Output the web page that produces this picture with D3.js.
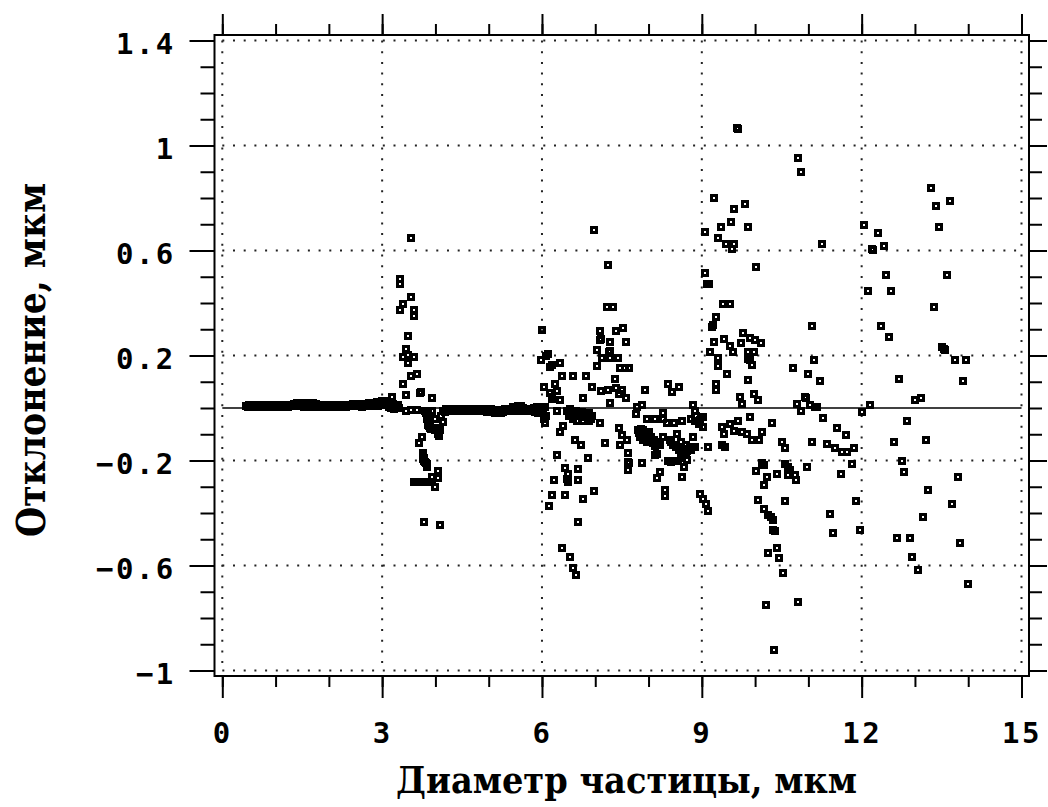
<!DOCTYPE html>
<html><head><meta charset="utf-8">
<script src="https://cdn.jsdelivr.net/npm/d3@7"></script>
<style>body{margin:0;background:#fff}</style>
</head><body>
<svg id="c" width="1048" height="807"></svg>
<script>
// ---------- tick labels / titles ----------
const xTicksMajor = [0, 3, 6, 9, 12, 15];
const xTickLabels = ["0", "3", "6", "9", "12", "15"];
const yTicksMajor = [-1, -0.6, -0.2, 0.2, 0.6, 1, 1.4];
const yTickLabels = ["−1", "−0.6", "−0.2", "0.2", "0.6", "1", "1.4"];
const xTitle = "Диаметр частицы, мкм";
const yTitle = "Отклонение, мкм";
const zeroLine = [[0, 0], [15, 0]];

// ---------- data: [diameter, deviation] ----------
// dense band of small particles (0.45 – 3.3 µm)
const band1 = [
 [0.45,0.008],[0.50,0.012],[0.55,0.012],[0.60,0.012],[0.65,0.012],[0.70,0.010],[0.75,0.012],[0.80,0.012],
 [0.85,0.010],[0.90,0.010],[0.95,0.012],[1.00,0.012],[1.05,0.010],[1.10,0.010],[1.15,0.012],[1.20,0.012],
 [1.25,0.012],[1.30,0.012],[1.35,0.016],[1.40,0.018],[1.45,0.018],[1.50,0.018],[1.55,0.018],[1.60,0.018],
 [1.65,0.016],[1.70,0.018],[1.75,0.014],[1.80,0.012],[1.85,0.010],[1.90,0.010],[1.95,0.010],[2.00,0.010],
 [2.05,0.010],[2.10,0.010],[2.15,0.010],[2.20,0.010],[2.25,0.010],[2.30,0.010],[2.35,0.012],[2.40,0.012],
 [2.45,0.014],[2.50,0.014],[2.55,0.014],[2.60,0.016],[2.65,0.016],[2.70,0.016],[2.75,0.018],[2.80,0.018],
 [2.85,0.018],[2.90,0.022],[2.95,0.024],[3.00,0.026],[3.05,0.028],[3.10,0.022],[3.15,0.020],[3.20,0.014],
 [3.25,0.010],[3.30,0.012],
 [0.475,0.002],[0.525,0.004],[0.575,0.006],[0.625,0.006],[0.675,0.002],[0.725,0.004],[0.775,0.006],[0.825,0.006],
 [0.875,0.004],[0.925,0.002],[0.975,0.006],[1.025,0.006],[1.075,0.004],[1.125,0.002],[1.175,0.002],[1.225,0.004],
 [1.275,0.006],[1.325,0.006],[1.375,0.008],[1.425,0.008],[1.475,0.006],[1.525,0.004],[1.575,0.006],[1.625,0.002],
 [1.675,0.002],[1.725,0.006],[1.775,0.006],[1.825,0.004],[1.875,0.004],[1.925,0.004],[1.975,0.004],[2.025,0.004],
 [2.075,0.004],[2.125,0.004],[2.175,0.004],[2.225,0.004],[2.275,0.004],[2.325,0.004],[2.375,0.006],[2.425,0.006],
 [2.475,0.006],[2.525,0.006],[2.575,0.006],[2.625,0.004],[2.675,0.006],[2.725,0.008],[2.775,0.008],[2.825,0.008],
 [2.875,0.006],[2.925,0.008],[2.975,0.012],[3.025,0.014],[3.075,0.010],[3.125,0.004],[3.175,0.000],[3.225,-0.004],
 [3.275,0.002],[3.32,0.000],[3.19,0.042]
];
const pts3to4 = [
 [3.54,0.648],[3.34,0.493],[3.34,0.474],[3.54,0.423],[3.39,0.395],[3.34,0.375],[3.59,0.373],[3.59,0.351],
 [3.49,0.273],[3.44,0.223],[3.39,0.195],[3.49,0.201],[3.60,0.195],[3.49,0.170],[3.65,0.131],[3.54,0.121],
 [3.39,0.091],[3.44,0.050],[3.71,0.058],[3.73,0.062],[3.94,0.040],[3.44,-0.011],[3.54,-0.009],[3.65,-0.009],
 [3.80,-0.011],[3.94,-0.011],[3.84,-0.03],[3.86,-0.05],[3.88,-0.07],[3.92,-0.08],[3.87,-0.02],
 [3.85,-0.04],[3.89,-0.06],[3.90,-0.075],[3.83,-0.02],[3.86,-0.065],
 [3.99,-0.085],[4.09,-0.085],[4.14,-0.053],[4.02,-0.076],[4.04,-0.10],[4.07,-0.105],[4.05,-0.09],[4.0,-0.04],[4.1,-0.03],
 [3.74,-0.11],[3.69,-0.133],[3.76,-0.18],[3.78,-0.19],[3.80,-0.205],[3.84,-0.215],[3.84,-0.225],
 [3.77,-0.17],[3.79,-0.20],[3.82,-0.21],[3.76,-0.195],
 [3.59,-0.281],[3.61,-0.281],[3.64,-0.281],[3.67,-0.281],[3.70,-0.281],[3.73,-0.281],[3.76,-0.281],
 [3.79,-0.281],[3.82,-0.281],[3.85,-0.281],[3.89,-0.281],[3.91,-0.281],[3.94,-0.281],
 [3.94,-0.262],[4.04,-0.24],[4.04,-0.268],[3.99,-0.30],[3.79,-0.434],[4.09,-0.444]
];
// dense band (4.1 – 6.1 µm)
const band2 = [
 [4.15,-0.010],[4.20,-0.002],[4.25,-0.002],[4.30,-0.002],[4.35,-0.002],[4.40,-0.002],[4.45,-0.002],[4.50,-0.002],
 [4.55,-0.002],[4.60,-0.002],[4.65,-0.002],[4.70,-0.002],[4.75,-0.002],[4.80,-0.002],[4.85,-0.002],[4.90,-0.002],
 [4.95,-0.004],[5.00,-0.004],[5.05,-0.004],[5.10,-0.006],[5.15,-0.006],[5.20,-0.008],[5.25,-0.006],[5.30,-0.004],
 [5.35,-0.002],[5.40,-0.002],[5.45,0.002],[5.50,0.004],[5.55,0.006],[5.60,0.006],[5.65,0.000],[5.70,-0.002],
 [5.75,-0.002],[5.80,-0.002],[5.85,0.000],[5.90,0.002],[5.95,0.000],[6.00,-0.004],[6.05,0.004],
 [4.175,-0.014],[4.225,-0.012],[4.275,-0.012],[4.325,-0.012],[4.375,-0.012],[4.425,-0.012],[4.475,-0.012],
 [4.525,-0.012],[4.575,-0.012],[4.625,-0.012],[4.675,-0.012],[4.725,-0.012],[4.775,-0.012],[4.825,-0.012],
 [4.875,-0.012],[4.925,-0.012],[4.975,-0.014],[5.025,-0.014],[5.075,-0.016],[5.125,-0.018],[5.175,-0.020],
 [5.225,-0.020],[5.275,-0.016],[5.325,-0.012],[5.375,-0.012],[5.425,-0.012],[5.475,-0.010],[5.525,-0.008],
 [5.575,-0.008],[5.625,-0.012],[5.675,-0.012],[5.725,-0.012],[5.775,-0.012],[5.825,-0.012],[5.875,-0.016],
 [5.925,-0.018],[5.975,-0.014],[6.025,-0.012],[6.08,-0.030]
];
const pts6to9 = [
 [6.0,0.296],[7.22,0.385],[7.33,0.385],[7.08,0.294],[7.39,0.294],[7.53,0.303],[7.09,0.258],[7.11,0.262],
 [7.28,0.252],[7.58,0.252],[7.03,0.220],[7.25,0.214],[7.27,0.218],[7.12,0.192],[7.28,0.192],[7.42,0.192],
 [7.03,0.160],[7.47,0.153],[7.56,0.153],[7.64,0.153],[6.12,0.205],[6.08,0.2],[5.98,0.182],[6.15,0.157],
 [6.18,0.165],[6.34,0.172],[6.38,0.121],[6.58,0.121],[6.83,0.121],[6.03,0.08],[6.25,0.093],[6.28,0.065],
 [6.18,0.042],[6.34,0.032],[6.77,0.040],[6.93,0.08],[7.37,0.112],[7.10,0.064],[7.23,0.068],[7.39,0.078],
 [7.50,0.068],[7.58,0.040],[7.44,0.055],[7.28,0.019],[7.93,0.070],[8.37,0.093],[8.44,0.061],[8.57,0.080],
 [7.87,0.011],[7.77,-0.021],[8.28,-0.019],[7.78,0.004],[6.15,0.058],[6.18,0.036],[6.06,-0.059],[6.03,-0.04],
 [6.28,-0.011],[6.47,-0.01],[6.53,-0.005],[6.58,-0.02],[6.64,-0.012],[6.7,-0.02],[6.76,-0.015],[6.82,-0.025],
 [6.88,-0.02],[6.94,-0.03],[6.5,-0.03],[6.58,-0.04],[6.65,-0.049],[6.77,-0.049],[6.89,-0.049],[7.08,-0.059],
 [6.50,-0.015],[6.56,-0.025],[6.62,-0.03],[6.68,-0.03],[6.74,-0.03],[6.80,-0.035],[6.86,-0.035],[6.92,-0.04],
 [6.39,-0.069],[6.33,-0.091],[6.62,-0.120],[6.73,-0.142],[6.28,-0.180],[6.87,-0.192],[6.43,-0.230],[6.48,-0.252],
 [6.68,-0.234],[6.48,-0.281],[6.47,-0.27],[6.68,-0.275],[6.23,-0.275],[6.98,-0.316],[6.18,-0.332],[6.43,-0.332],
 [6.77,-0.345],[6.14,-0.374],[6.68,-0.434],[6.37,-0.535],[6.53,-0.567],[6.58,-0.608],[6.63,-0.637],
 [6.98,0.677],[7.23,0.544],[7.45,-0.078],[7.50,-0.101],[7.59,-0.123],[7.47,-0.142],[7.18,-0.133],
 [7.8,-0.085],[7.86,-0.08],[7.92,-0.09],[7.98,-0.1],[8.04,-0.11],[8.1,-0.12],[8.16,-0.13],[8.22,-0.14],
 [7.84,-0.11],[7.9,-0.12],[7.98,-0.13],[8.05,-0.13],[8.12,-0.145],[7.94,-0.10],
 [7.82,-0.095],[7.88,-0.10],[7.96,-0.115],[8.02,-0.12],[8.08,-0.135],[8.18,-0.14],[8.0,-0.09],[7.9,-0.085],
 [7.97,-0.040],[8.12,-0.040],[8.27,-0.040],[8.34,-0.059],[8.48,-0.059],[8.62,-0.049],[8.53,-0.10],[8.28,-0.11],
 [8.4,-0.12],[8.45,-0.14],[8.5,-0.14],[8.56,-0.15],[8.62,-0.16],[8.68,-0.17],[8.75,-0.16],[8.8,-0.16],
 [8.6,-0.13],[8.7,-0.14],[8.42,-0.13],[8.52,-0.15],[8.58,-0.16],[8.65,-0.155],[8.72,-0.165],[8.78,-0.15],
 [8.36,-0.2],[8.42,-0.205],[8.48,-0.2],[8.55,-0.2],[8.6,-0.19],[8.12,-0.18],[8.15,-0.175],
 [7.62,-0.173],[7.62,-0.205],[7.64,-0.21],[7.62,-0.237],[7.87,-0.209],[8.70,-0.171],[8.72,-0.199],[8.67,-0.224],
 [8.62,-0.262],[8.22,-0.243],[8.16,-0.265],[8.31,-0.313],[8.31,-0.336],[8.84,0.011],[8.88,-0.01],[8.9,-0.03],
 [8.88,-0.05],[8.95,-0.06],[8.8,-0.04],[8.84,-0.11],[8.87,-0.147],[8.82,-0.15],[8.97,-0.045],
 [8.97,-0.326],[9.02,-0.345],[9.07,-0.366],[9.12,-0.393]
];
const pts9to12 = [
 [9.03,-0.072],[9.02,-0.034],[9.12,-0.15],[9.09,0.474],[9.14,0.472],[9.40,0.395],[9.52,0.395],[9.27,0.345],
 [9.19,0.309],[9.21,0.315],[9.22,0.252],[9.41,0.261],[9.53,0.235],[9.58,0.214],[9.31,0.192],[9.31,0.159],
 [9.47,0.131],[9.16,0.214],[9.73,0.246],[9.78,0.284],[9.91,0.268],[10.0,0.258],[10.11,0.246],[9.87,0.214],
 [9.98,0.214],[9.91,0.182],[9.94,0.163],[9.87,0.188],[9.87,0.106],[9.27,0.093],[9.27,0.068],[9.72,0.042],
 [9.75,0.017],[9.97,0.055],[10.06,0.032],
 [9.38,-0.072],[9.41,-0.10],[9.52,-0.062],[9.67,-0.049],[9.61,-0.087],[9.75,-0.091],[9.84,-0.10],[9.95,-0.12],
 [10.07,-0.12],[10.13,-0.091],[9.91,-0.036],[10.31,-0.059],[9.38,-0.142],[9.44,-0.148],[10.16,-0.218],
 [10.13,-0.21],[10.02,-0.24],[10.23,-0.262],[10.41,-0.25],[10.16,-0.294],[10.06,-0.351],[10.16,-0.383],
 [10.25,-0.408],[10.34,-0.427],[10.30,-0.415],[10.34,-0.465],[10.37,-0.47],[10.41,-0.535],[10.44,-0.573],
 [10.25,-0.554],
 [9.66,1.067],[9.68,1.062],[10.80,0.951],[10.86,0.900],[9.22,0.801],[9.61,0.757],[9.81,0.779],[9.55,0.709],
 [9.87,0.688],[9.36,0.688],[9.06,0.670],[9.31,0.648],[9.46,0.626],[9.61,0.626],[9.56,0.604],[11.26,0.626],
 [10.02,0.536],[9.06,0.516],
 [11.06,0.313],[10.71,0.152],[11.11,0.181],[11.0,0.130],[11.22,0.101],[10.94,0.043],[10.96,0.038],[10.78,0.014],
 [10.86,-0.011],[11.03,0.011],[11.16,0.003],[11.12,0.005],[11.27,-0.037],[11.06,-0.129],[11.35,-0.139],
 [11.50,-0.151],[11.63,-0.169],[11.72,-0.169],[11.85,-0.151],[11.82,-0.213],[11.61,-0.253],[11.53,-0.078],
 [11.71,-0.103],[10.50,-0.13],[10.56,-0.151],
 [10.56,-0.213],[10.62,-0.225],[10.66,-0.237],[10.62,-0.256],[10.75,-0.256],[10.77,-0.274],[10.97,-0.224],
 [10.56,-0.355],[11.41,-0.405],[11.46,-0.475],[10.52,-0.628],[10.21,-0.749],[10.80,-0.740],[10.36,-0.922],
 [11.90,-0.354],[11.96,-0.466]
];
const pts12to15 = [
 [12.0,-0.016],[12.16,0.011],[13.30,0.840],[13.65,0.789],[13.40,0.769],[13.45,0.688],[12.05,0.699],[12.31,0.667],
 [12.22,0.601],[12.20,0.606],[12.41,0.618],[12.46,0.506],[13.60,0.506],[12.11,0.445],[12.55,0.445],[13.36,0.383],
 [12.36,0.313],[12.52,0.271],[13.50,0.233],[13.54,0.226],[13.57,0.220],[13.75,0.182],[13.96,0.182],[12.71,0.112],
 [13.91,0.102],[13.0,0.030],[13.11,0.040],[12.86,-0.050],[12.61,-0.131],[13.21,-0.123],[12.75,-0.201],
 [12.80,-0.243],[13.80,-0.262],[13.25,-0.313],[13.70,-0.364],[13.15,-0.415],[12.66,-0.495],[12.91,-0.495],
 [13.85,-0.516],[12.95,-0.567],[13.05,-0.618],[14.0,-0.669]
];
const allPoints = [].concat(band1, pts3to4, band2, pts6to9, pts9to12, pts12to15);

// ---------- layout ----------
const svg = d3.select("#c");
const x = d3.scaleLinear().domain([0, 15]).range([222.3, 1021.5]);
const y = d3.scaleLinear().domain([-1, 1.4]).range([670.5, 40.5]);
const frame = {l: 214.5, r: 1029, t: 35, b: 676};
const xMinor = d3.range(0, 16);
const yMinor = d3.range(-10, 15).map(i => i / 10);
const tickFont = "'DejaVu Sans Mono', 'Liberation Mono', monospace";
const titleFont = "'DejaVu Serif', 'Liberation Serif', serif";

// grid (dotted)
const grid = svg.append("g").attr("stroke", "#222").attr("stroke-width", 2)
  .attr("stroke-dasharray", "2 8.7").attr("stroke-linecap", "butt");
grid.selectAll("line.v").data(xTicksMajor).join("line")
  .attr("x1", d => x(d)).attr("x2", d => x(d))
  .attr("y1", y(1.4)).attr("y2", y(-1));
grid.selectAll("line.h").data(yTicksMajor).join("line")
  .attr("x1", x(0)).attr("x2", x(15))
  .attr("y1", d => y(d)).attr("y2", d => y(d));

// zero line
svg.append("path").datum(zeroLine)
  .attr("d", d3.line().x(d => x(d[0])).y(d => y(d[1])))
  .attr("stroke", "#000").attr("stroke-width", 1.6).attr("fill", "none");

// points (hollow squares)
const s = 5;
svg.append("g").attr("shape-rendering", "crispEdges")
  .selectAll("rect").data(allPoints).join("rect")
  .attr("x", d => Math.round(x(d[0])) - s / 2).attr("y", d => Math.round(y(d[1])) - s / 2)
  .attr("width", s).attr("height", s)
  .attr("fill", "none").attr("stroke", "#000").attr("stroke-width", 3);

// frame
svg.append("rect").attr("x", frame.l).attr("y", frame.t)
  .attr("width", frame.r - frame.l).attr("height", frame.b - frame.t)
  .attr("fill", "none").attr("stroke", "#000").attr("stroke-width", 2);

function styleAxis(g) {
  g.select(".domain").remove();
  g.selectAll(".tick line").attr("stroke", "#000").attr("stroke-width", 2);
  g.selectAll("text").attr("font-family", tickFont).attr("font-weight", "bold")
    .attr("font-size", 29).attr("letter-spacing", 2.5).attr("fill", "#000");
}
// bottom
svg.append("g").attr("transform", `translate(0,${frame.b})`)
  .call(d3.axisBottom(x).tickValues(xMinor).tickSize(11).tickFormat("")).call(styleAxis);
svg.append("g").attr("transform", `translate(0,${frame.b})`)
  .call(d3.axisBottom(x).tickValues(xTicksMajor).tickSize(22).tickPadding(24.7)
    .tickFormat((d, i) => xTickLabels[i])).call(styleAxis);
// top
svg.append("g").attr("transform", `translate(0,${frame.t})`)
  .call(d3.axisTop(x).tickValues(xMinor).tickSize(11).tickFormat("")).call(styleAxis);
svg.append("g").attr("transform", `translate(0,${frame.t})`)
  .call(d3.axisTop(x).tickValues(xTicksMajor).tickSize(21).tickFormat("")).call(styleAxis);
// left
svg.append("g").attr("transform", `translate(${frame.l},0)`)
  .call(d3.axisLeft(y).tickValues(yMinor).tickSize(14).tickFormat("")).call(styleAxis);
const yl = svg.append("g").attr("transform", `translate(${frame.l},0)`)
  .call(d3.axisLeft(y).tickValues(yTicksMajor).tickSize(25).tickPadding(13.7)
    .tickFormat((d, i) => yTickLabels[i])).call(styleAxis);
yl.selectAll("text").attr("dy", "0.45em");
// right
svg.append("g").attr("transform", `translate(${frame.r},0)`)
  .call(d3.axisRight(y).tickValues(yMinor).tickSize(13).tickFormat("")).call(styleAxis);
svg.append("g").attr("transform", `translate(${frame.r},0)`)
  .call(d3.axisRight(y).tickValues(yTicksMajor).tickSize(18).tickFormat("")).call(styleAxis);

// titles
svg.append("text").text(xTitle)
  .attr("x", 626.5).attr("y", 793).attr("text-anchor", "middle")
  .attr("font-family", titleFont).attr("font-weight", "bold").attr("font-size", 38)
  .attr("textLength", 461).attr("lengthAdjust", "spacingAndGlyphs").attr("fill", "#000");
svg.append("text").text(yTitle)
  .attr("transform", "translate(45,360) rotate(-90)").attr("text-anchor", "middle")
  .attr("font-family", titleFont).attr("font-weight", "bold").attr("font-size", 40)
  .attr("textLength", 354).attr("lengthAdjust", "spacingAndGlyphs").attr("fill", "#000");
</script>
</body></html>
